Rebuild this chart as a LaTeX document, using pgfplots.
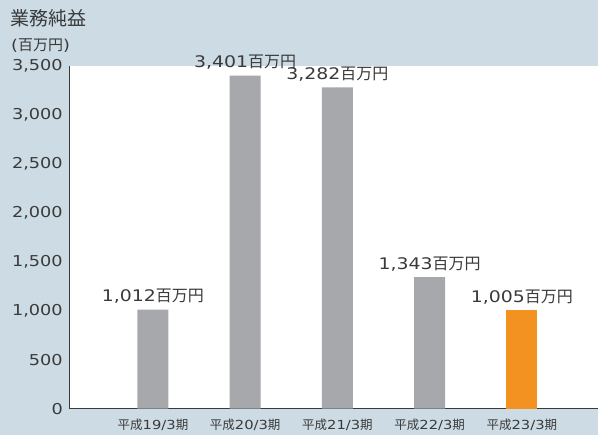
\documentclass[border=0pt]{standalone}
\usepackage{fontspec}
\setmainfont{DejaVu Sans}[FakeStretch=1.18]
\newfontfamily\cjk{Noto Sans CJK JP}
\usepackage{pgfplots}
\pgfplotsset{compat=1.18}
\definecolor{bgcol}{HTML}{CDDCE4}
\definecolor{bargray}{HTML}{A7A8AB}
\definecolor{barorange}{HTML}{F39220}
\definecolor{txt}{HTML}{3A3A3A}
\protected\def\hm{{\cjk\fontsize{16bp}{16bp}\selectfont 百万円}}
\protected\def\hs{\cjk 平成}
\protected\def\ki{\cjk 期}
\begin{document}
\begin{tikzpicture}
\fill[bgcol] (-70bp,-26bp) rectangle (528bp,409bp);
\begin{axis}[
  at={(0,0)}, anchor=south west,
  scale only axis, width=528bp, height=343bp,
  xmin=-0.9, xmax=4.82, ymin=0, ymax=3500,
  axis background/.style={fill=white},
  axis x line=bottom, axis y line=left,
  axis line style={-, draw=txt, line width=0.9bp},
  xtick={0,1,2,3,4},
  xticklabels={{\hs}19/3{\ki},{\hs}20/3{\ki},{\hs}21/3{\ki},{\hs}22/3{\ki},{\hs}23/3{\ki}},
  ytick={0,500,...,3500},
  major tick length=0pt,
  /pgf/number format/.cd, 1000 sep={,}, assume math mode=true,
  /pgfplots/.cd,
  yticklabel style={anchor=east, inner sep=0pt, xshift=-7bp, font=\fontsize{15bp}{15bp}\selectfont, text=txt},
  xticklabel style={anchor=north, inner sep=0pt, yshift=-10bp, font=\fontsize{12.5bp}{12.5bp}\selectfont, text=txt},
  ybar, bar width=31bp, bar shift=0pt,
  clip=false,
  nodes near coords,
  point meta=explicit symbolic,
  nodes near coords style={font=\fontsize{16bp}{16bp}\selectfont, text=txt, inner sep=0pt, yshift=6bp, anchor=south},
]
\addplot[fill=bargray, draw=none] coordinates {
 (0,1012) [1,012\hm]
 (1,3401) [3,401\hm]
 (2,3282) [3,282\hm]
 (3,1343) [1,343\hm]
};
\addplot[fill=barorange, draw=none] coordinates {
 (4,1005) [1,005\hm]
};
\end{axis}
\node[anchor=west, inner sep=0pt, text=txt, font=\fontsize{19bp}{19bp}\selectfont\cjk] at (-60bp,391bp) {業務純益};
\node[anchor=west, inner sep=0pt, text=txt, font=\fontsize{15bp}{15bp}\selectfont] at (-59bp,363bp) {({\cjk 百万円})};
\end{tikzpicture}
\end{document}
